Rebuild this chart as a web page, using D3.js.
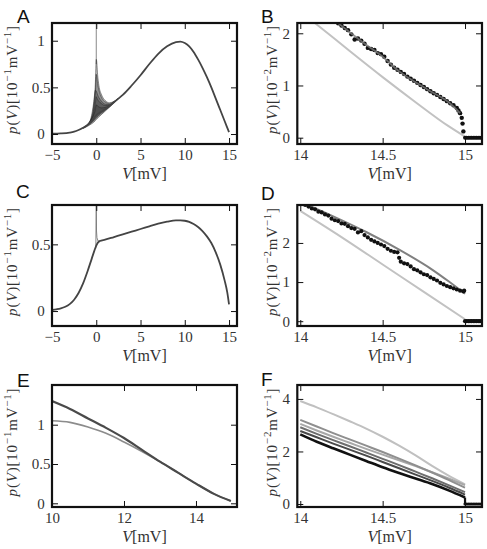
<!DOCTYPE html>
<html><head><meta charset="utf-8">
<script src="https://cdn.jsdelivr.net/npm/d3@7"></script>
<style>body{margin:0;background:#fff}svg{display:block}</style>
</head><body>
<svg id="chart" width="487" height="549"></svg>
<script>
// ---------- DATA ----------
// Panel A: stationary density (units 10^-1 mV^-1)
const aV = [-5,-4,-3,-2.5,-2,-1.5,-1,-0.5,0,0.5,1,1.5,2,2.5,3,4,5,6,7,8,9,9.5,10,10.5,11,11.5,12,12.5,13,13.5,14,14.5,15];
const aP = [0.003,0.006,0.015,0.025,0.043,0.067,0.097,0.14,0.2,0.235,0.265,0.3,0.34,0.38,0.42,0.52,0.63,0.75,0.86,0.94,0.985,0.99,0.975,0.94,0.88,0.8,0.71,0.61,0.5,0.38,0.26,0.14,0.02];
// Panel A: transient traces near the reset potential
const aTrV  = [-1.5,-1,-0.6,-0.3,-0.1,0,0.05,0.15,0.3,0.6,1,1.5,2,2.5];
const aTrBase = [0.067,0.097,0.131,0.164,0.188,0.2,0.2035,0.21,0.221,0.241,0.265,0.3,0.34,0.38];
const aTr1 = [0.067,0.1,0.16,0.3,0.55,0.8,0.78,0.64,0.52,0.42,0.36,0.335,0.35,0.38];
const aTr2 = [0.067,0.1,0.15,0.26,0.45,0.64,0.62,0.54,0.47,0.39,0.345,0.325,0.347,0.38];
const aTr3 = [0.067,0.1,0.17,0.33,0.47,0.46,0.45,0.42,0.39,0.35,0.32,0.315,0.344,0.38];
const aTr4 = [0.067,0.098,0.15,0.22,0.33,0.4,0.39,0.37,0.35,0.325,0.305,0.31,0.342,0.38];
const aTr5 = [0.058,0.082,0.105,0.125,0.145,0.155,0.16,0.17,0.185,0.21,0.245,0.288,0.334,0.38];
const aTr6 = [0.063,0.089,0.118,0.143,0.163,0.176,0.18,0.188,0.203,0.226,0.256,0.294,0.337,0.38];
const aTr7 = [0.067,0.1,0.15,0.2,0.26,0.31,0.31,0.3,0.29,0.28,0.285,0.305,0.342,0.38];
const aSpikeV = [0, 0];
const aSpikeP = [0.75, 1.25];

// Panel B (units 10^-2 mV^-1)
const bDotV = [14.23,14.25,14.27,14.29,14.31,14.33,14.35,14.37,14.39,14.41,14.43,14.45,14.47,14.49,14.51,14.53,14.55,14.57,14.59,14.61,14.63,14.65,14.67,14.69,14.71,14.73,14.75,14.77,14.79,14.81,14.83,14.85,14.87,14.89,14.91,14.93,14.95,14.96,14.97,14.98,14.985,14.99];
const bDotP = [2.19,2.15,2.1,2.06,1.98,1.88,1.9,1.86,1.8,1.72,1.7,1.68,1.62,1.6,1.55,1.47,1.4,1.34,1.3,1.26,1.22,1.17,1.13,1.09,1.05,1.01,0.97,0.93,0.89,0.85,0.82,0.78,0.74,0.7,0.66,0.62,0.57,0.52,0.47,0.38,0.27,0.12];
const bFitV = [14.2,14.3,14.4,14.5,14.6,14.7,14.8,14.9,14.97];
const bFitP = [2.27,2.02,1.78,1.55,1.27,1.06,0.87,0.68,0.47];
const bApproxV = [14.0,14.1,14.3,14.5,14.7,14.9,15.0];
const bApproxP = [2.42,2.17,1.66,1.16,0.68,0.22,0.02];
const flatV = [15.0,15.01,15.02,15.03,15.04,15.05,15.06,15.07,15.08,15.09,15.1];
const flatP = [0,0,0,0,0,0,0,0,0,0,0];

// Panel C
const cV = [-5,-4.5,-4,-3.5,-3,-2.5,-2,-1.5,-1,-0.5,-0.2,0,0.2,0.4,1,2,3,4,5,6,7,8,9,9.5,10,10.5,11,11.5,12,12.5,13,13.5,14,14.5,14.8,15];
const cP = [0.008,0.013,0.02,0.032,0.052,0.085,0.135,0.205,0.295,0.395,0.455,0.49,0.515,0.525,0.535,0.555,0.575,0.595,0.615,0.635,0.655,0.67,0.68,0.68,0.677,0.668,0.652,0.63,0.6,0.56,0.51,0.44,0.35,0.23,0.14,0.05];
const cSpikeV = [-0.05,0,0.03,0.08,0.2,0.4];
const cSpikeP = [0.47,0.8,0.6,0.55,0.525,0.525];

// Panel D
const dDotV = [14.03,14.05,14.07,14.09,14.11,14.13,14.15,14.17,14.19,14.21,14.23,14.25,14.27,14.29,14.31,14.33,14.35,14.37,14.39,14.41,14.43,14.45,14.47,14.49,14.51,14.53,14.55,14.57,14.59,14.6,14.61,14.63,14.65,14.67,14.69,14.71,14.73,14.75,14.77,14.79,14.81,14.83,14.85,14.87,14.89,14.91,14.93,14.95,14.97,14.99,14.995];
const dDotP = [2.97,2.93,2.88,2.86,2.8,2.78,2.73,2.7,2.62,2.58,2.56,2.5,2.49,2.43,2.38,2.36,2.27,2.3,2.2,2.14,2.08,2.04,2.0,1.96,1.92,1.85,1.8,1.77,1.76,1.62,1.52,1.48,1.46,1.4,1.33,1.3,1.25,1.2,1.18,1.12,1.08,1.04,0.98,0.94,0.9,0.87,0.84,0.81,0.78,0.76,0.78];
const dFitV = [14.0,14.2,14.4,14.6,14.8,14.9,15.0];
const dFitP = [3.05,2.68,2.28,1.83,1.32,1.02,0.7];
const dApproxV = [14.0,14.25,14.5,14.75,15.0];
const dApproxP = [2.82,2.15,1.45,0.75,0.05];

// Panel E
const eV = [10,10.5,11,11.5,12,12.5,13,13.5,14,14.5,14.97];
const eDark = [1.3,1.2,1.08,0.96,0.83,0.68,0.53,0.39,0.25,0.12,0.03];
const eLight = [1.05,1.03,0.97,0.89,0.78,0.66,0.53,0.39,0.25,0.12,0.03];

// Panel F
const fV = [14.0,14.1,14.2,14.3,14.4,14.5,14.6,14.7,14.8,14.9,15.0];
const f1 = [3.92,3.68,3.42,3.15,2.87,2.56,2.22,1.85,1.45,1.08,0.75];
const f2 = [3.2,2.95,2.7,2.46,2.22,1.98,1.73,1.47,1.2,0.92,0.62];
const f3 = [3.05,2.8,2.56,2.33,2.1,1.88,1.66,1.44,1.21,0.97,0.72];
const f4 = [2.92,2.67,2.43,2.2,1.96,1.72,1.48,1.23,0.98,0.72,0.45];
const f5 = [2.78,2.54,2.3,2.07,1.84,1.6,1.36,1.12,0.88,0.63,0.36];
const f6 = [2.65,2.37,2.12,1.88,1.64,1.4,1.18,0.97,0.76,0.52,0.25];
const fDropV = [15.0,15.0];
const fDropP = [0.25,0];

// Tick values and unit exponents
const xTicksWide = [-5,0,5,10,15];
const xTicksZoom = [14,14.5,15];
const xTicksE = [10,12,14];
const yTicksA = [0,0.5,1];
const yTicksB = [0,1,2];
const yTicksC = [0,0.5];
const yTicksD = [0,1,2];
const yTicksE = [0,0.5,1];
const yTicksF = [0,2,4];
const unitExpWide = '\u22121';
const unitExpZoom = '\u22122';

// ---------- DRAWING ----------
const svg = d3.select('#chart');
const SERIF = "'Liberation Serif', 'Times New Roman', serif";
const fmt = d3.format('');

function panel(o) {
  const x = d3.scaleLinear().domain(o.xd).range([o.l, o.r]);
  const y = d3.scaleLinear().domain(o.yd).range([o.b, o.t]);
  const clipId = 'clip' + o.name;
  svg.append('clipPath').attr('id', clipId).append('rect')
    .attr('x', o.l).attr('y', o.t).attr('width', o.r - o.l).attr('height', o.b - o.t);
  const data = svg.append('g').attr('clip-path', `url(#${clipId})`);
  const ax = svg.append('g');
  const TS = -6;
  ax.append('g').attr('transform', `translate(0,${o.b})`)
    .call(d3.axisBottom(x).tickValues(o.xt).tickSizeInner(TS).tickSizeOuter(0).tickPadding(5).tickFormat(fmt));
  ax.append('g').attr('transform', `translate(0,${o.t})`)
    .call(d3.axisTop(x).tickValues(o.xt).tickSizeInner(TS).tickSizeOuter(0).tickFormat(''));
  const ly = ax.append('g').attr('transform', `translate(${o.l},0)`)
    .call(d3.axisLeft(y).tickValues(o.yt).tickSizeInner(TS).tickSizeOuter(0).tickFormat(fmt));
  ax.append('g').attr('transform', `translate(${o.r},0)`)
    .call(d3.axisRight(y).tickValues(o.yt).tickSizeInner(TS).tickSizeOuter(0).tickFormat(''));
  ax.selectAll('.domain').remove();
  ax.selectAll('g').attr('font-family', null).attr('font-size', null);
  ax.selectAll('.tick line').attr('stroke', '#111').attr('stroke-width', 1);
  ax.selectAll('.tick text').style('font-family', SERIF).style('font-size', '15px').attr('fill', '#333');
  ly.selectAll('text').attr('text-anchor', 'middle').attr('x', -11);
  ax.append('rect').attr('x', o.l).attr('y', o.t).attr('width', o.r - o.l).attr('height', o.b - o.t)
    .attr('fill', 'none').attr('stroke', '#111').attr('stroke-width', 2.2);
  // x label
  const xl = ax.append('text').attr('x', (o.l + o.r) / 2).attr('y', o.b + 35)
    .attr('text-anchor', 'middle').style('font-family', SERIF).style('font-size', '16px').attr('fill', '#333');
  xl.append('tspan').attr('font-style', 'italic').text('V');
  xl.append('tspan').text('[mV]');
  // y label
  const cy = (o.t + o.b) / 2 - 4;
  const yl = ax.append('text').attr('transform', `translate(${o.ylx},${cy}) rotate(-90)`)
    .attr('text-anchor', 'middle').style('font-family', SERIF).style('font-size', '15px')
    .attr('letter-spacing', 0.8).attr('fill', '#333');
  yl.append('tspan').attr('font-style', 'italic').text('p');
  yl.append('tspan').text('(');
  yl.append('tspan').attr('font-style', 'italic').text('V');
  yl.append('tspan').text(')[10');
  yl.append('tspan').attr('dy', -6).style('font-size', '11px').text(o.exp);
  yl.append('tspan').attr('dy', 6).text('mV');
  yl.append('tspan').attr('dy', -6).style('font-size', '11px').text('\u22121');
  yl.append('tspan').attr('dy', 6).text(']');
  // panel letter
  svg.append('text').attr('x', o.lx).attr('y', o.ly).style('font-family', "'Liberation Sans', Arial, sans-serif")
    .style('font-size', '19px').attr('fill', '#111').text(o.name);
  return {x, y, data};
}

function line(p, xs, ys, stroke, width, curve, opacity) {
  const pts = xs.map((v, i) => [v, ys[i]]);
  p.data.append('path').datum(pts)
    .attr('d', d3.line().x(d => p.x(d[0])).y(d => p.y(d[1])).curve(curve || d3.curveMonotoneX))
    .attr('fill', 'none').attr('stroke', stroke).attr('stroke-width', width)
    .attr('stroke-opacity', opacity == null ? 1 : opacity).attr('stroke-linejoin', 'round');
}
function band(p, xs, y0s, y1s, fill, opacity) {
  const pts = xs.map((v, i) => [v, y0s[i], y1s[i]]);
  p.data.append('path').datum(pts)
    .attr('d', d3.area().x(d => p.x(d[0])).y0(d => p.y(d[1])).y1(d => p.y(d[2])).curve(d3.curveMonotoneX))
    .attr('fill', fill).attr('fill-opacity', opacity);
}
function dots(p, xs, ys, r, fill) {
  p.data.append('g').selectAll('circle').data(xs.map((v, i) => [v, ys[i]])).join('circle')
    .attr('cx', d => p.x(d[0])).attr('cy', d => p.y(d[1])).attr('r', r).attr('fill', fill);
}

const L = 52, R = 237, L2 = 297.3, R2 = 482;

// A
const A = panel({name:'A', l:L, r:R, t:23, b:144, xd:[-5,15.9], yd:[-0.107,1.19], xt:xTicksWide, yt:yTicksA, ylx:17, lx:17, ly:23, exp:unitExpWide});
line(A, aSpikeV, aSpikeP, '#888', 1, d3.curveLinear);
[aTr1, aTr2, aTr3, aTr4, aTr7].forEach(tr => band(A, aTrV, aTrBase, tr, '#333', 0.33));
[aTr5, aTr6].forEach(tr => band(A, aTrV, tr, aTrBase, '#222', 0.45));
[aTr1, aTr2, aTr3, aTr4, aTr5, aTr6, aTr7].forEach(tr => line(A, aTrV, tr, '#222', 0.8, null, 0.6));
line(A, aV, aP, '#444', 1.8);

// B
const B = panel({name:'B', l:L2, r:R2, t:23, b:144, xd:[13.982,15.103], yd:[-0.121,2.197], xt:xTicksZoom, yt:yTicksB, ylx:277, lx:261, ly:23, exp:unitExpZoom});
line(B, bApproxV, bApproxP, '#c2c2c2', 2);
dots(B, bDotV, bDotP, 2.2, '#111');
dots(B, flatV, flatP, 2, '#111');
line(B, bFitV, bFitP, '#7a7a7a', 1.8, null, 0.8);

// C
const C = panel({name:'C', l:L, r:R, t:205, b:326, xd:[-5,15.9], yd:[-0.112,0.795], xt:xTicksWide, yt:yTicksC, ylx:17, lx:16, ly:198, exp:unitExpWide});
line(C, cSpikeV, cSpikeP, '#777', 0.9, d3.curveLinear);
line(C, cV, cP, '#444', 1.8);

// D
const D = panel({name:'D', l:L2, r:R2, t:205, b:326, xd:[13.982,15.103], yd:[-0.123,2.97], xt:xTicksZoom, yt:yTicksD, ylx:277, lx:261, ly:200, exp:unitExpZoom});
line(D, dApproxV, dApproxP, '#c2c2c2', 2);
line(D, dFitV, dFitP, '#808080', 2);
dots(D, dDotV, dDotP, 2.1, '#111');
dots(D, flatV, flatP, 2.1, '#111');

// E
const E = panel({name:'E', l:L, r:R, t:385, b:507, xd:[10,15.14], yd:[-0.047,1.505], xt:xTicksE, yt:yTicksE, ylx:17, lx:17, ly:387, exp:unitExpWide});
line(E, eV, eLight, '#8c8c8c', 1.6);
line(E, eV, eDark, '#4a4a4a', 2.2);

// F
const F = panel({name:'F', l:L2, r:R2, t:385, b:507, xd:[13.982,15.103], yd:[-0.114,4.53], xt:xTicksZoom, yt:yTicksF, ylx:277, lx:261, ly:386, exp:unitExpZoom});
line(F, fV, f1, '#c0c0c0', 2);
line(F, fV, f3, '#a8a8a8', 2);
line(F, fV, f2, '#8f8f8f', 2);
line(F, fV, f4, '#6e6e6e', 2);
line(F, fV, f5, '#4a4a4a', 2);
line(F, fV, f6, '#111', 2.6);
line(F, fDropV, fDropP, '#111', 2.2, d3.curveLinear);
dots(F, flatV, flatP, 1.6, '#111');
</script>
</body></html>
